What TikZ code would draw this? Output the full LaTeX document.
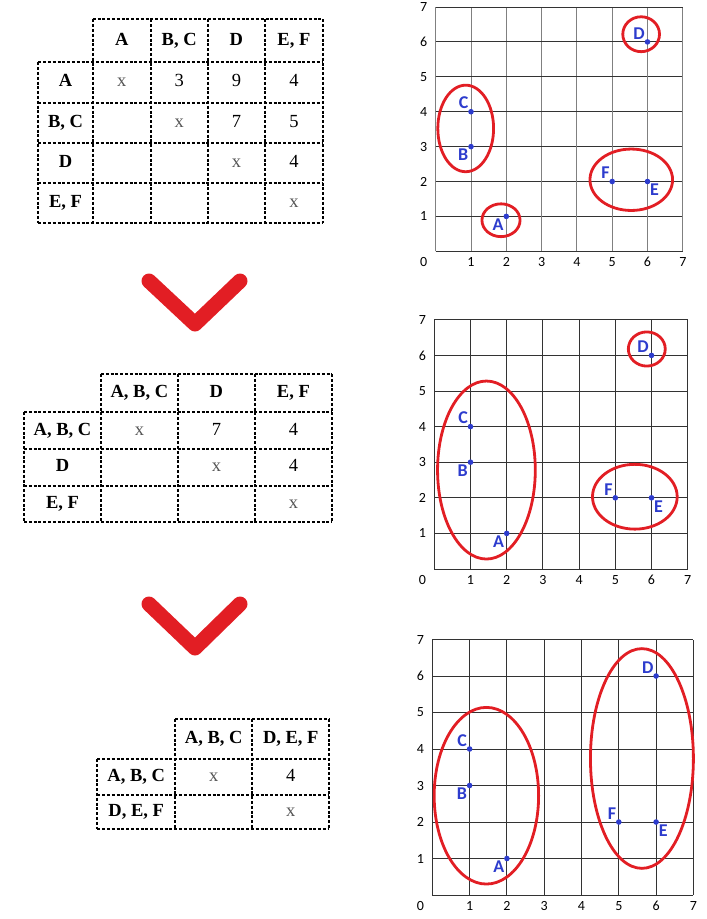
\documentclass[tikz,border=0pt]{standalone}
\usepackage{fontspec}
\setmainfont{Liberation Serif}
\newfontfamily\plotfont{Carlito}
\usepackage{tikz}
\usetikzlibrary{positioning}
\definecolor{chevred}{RGB}{226,30,36}
\definecolor{ptblue}{RGB}{45,60,205}
\definecolor{xgray}{RGB}{85,85,85}
\tikzset{%
  dotline/.style={%
    line width=1.8pt,
    dash pattern=on 3pt off 1.8pt
  }
}
\tikzset{%
  hdr/.style={font=\fontsize{18.5}{22}\selectfont\bfseries, inner sep=0pt},
  val/.style={font=\fontsize{18.5}{22}\selectfont, inner sep=0pt},
  xval/.style={val, text=xgray},
  chevron/.style={draw=chevred, line width=15pt, line cap=round, line join=round},
  gridln/.style={line width=1pt, draw=black!80},
  cluster/.style={draw=chevred, line width=2.8pt},
  axisnum/.style={font=\plotfont\fontsize{14}{14}\selectfont, inner sep=0pt},
  ptlabel/.style={font=\plotfont\bfseries\fontsize{18}{18}\selectfont, text=ptblue, inner sep=0pt}
}

\begin{document}
\begin{tikzpicture}[x=1pt, y=-1pt]
  \useasboundingbox (0,0) rectangle (707,919);

  % first table
  \draw [dotline] (92.7,19.3) -- (322.7,19.3);
  \foreach \y in {62.3,102.7,142.7,182.7,222.7}
    \draw [dotline] (38.3,\y) -- (322.7,\y);
  \draw [dotline] (38.3,62.3) -- (38.3,222.7);
  \foreach \x in {92.7,150.7,207.7,265,322.7}
    \draw [dotline] (\x,19.3) -- (\x,222.7);
  \node [hdr] (ah1) at (121.7,40.8) {\strut A};
  \node [hdr] (ah2) at (179.2,40.8) {\strut B, C};
  \node [hdr] (ah3) at (236.4,40.8) {\strut D};
  \node [hdr] (ah4) at (293.9,40.8) {\strut E, F};
  \node [hdr] (ar1) at (65.5,82.5) {\strut A};
  \node [hdr] (ar2) at (65.5,122.7) {\strut B, C};
  \node [hdr] (ar3) at (65.5,162.7) {\strut D};
  \node [hdr] (ar4) at (65.5,202.7) {\strut E, F};
  \node [xval] (a11) at (121.7,82.5) {\strut x};
  \node [val] (a12) at (179.2,82.5) {\strut 3};
  \node [val] (a13) at (236.4,82.5) {\strut 9};
  \node [val] (a14) at (293.9,82.5) {\strut 4};
  \node [xval] (a22) at (179.2,122.7) {\strut x};
  \node [val] (a23) at (236.4,122.7) {\strut 7};
  \node [val] (a24) at (293.9,122.7) {\strut 5};
  \node [xval] (a33) at (236.4,162.7) {\strut x};
  \node [val] (a34) at (293.9,162.7) {\strut 4};
  \node [xval] (a44) at (293.9,202.7) {\strut x};

  \draw [chevron] (149,281) -- (195,324) -- (240,281);

  % second table
  \draw [dotline] (101,374) -- (331.7,374);
  \foreach \y in {412.3,449,485.7,521.7}
    \draw [dotline] (24,\y) -- (331.7,\y);
  \draw [dotline] (24,412.3) -- (24,521.7);
  \foreach \x in {101,177.7,255,331.7}
    \draw [dotline] (\x,374) -- (\x,521.7);
  \node [hdr] (bh1) at (139.4,393.2) {\strut A, B, C};
  \node [hdr] (bh2) at (216.4,393.2) {\strut D};
  \node [hdr] (bh3) at (293.4,393.2) {\strut E, F};
  \node [hdr] (br1) at (62.5,430.7) {\strut A, B, C};
  \node [hdr] (br2) at (62.5,467.4) {\strut D};
  \node [hdr] (br3) at (62.5,503.7) {\strut E, F};
  \node [xval] (b11) at (139.4,430.7) {\strut x};
  \node [val] (b12) at (216.4,430.7) {\strut 7};
  \node [val] (b13) at (293.4,430.7) {\strut 4};
  \node [xval] (b22) at (216.4,467.4) {\strut x};
  \node [val] (b23) at (293.4,467.4) {\strut 4};
  \node [xval] (b33) at (293.4,503.7) {\strut x};

  \draw [chevron] (149,604) -- (195,648) -- (240,604);

  % third table
  \draw [dotline] (175,719.3) -- (329.3,719.3);
  \foreach \y in {759.3,795,829.3}
    \draw [dotline] (97.3,\y) -- (329.3,\y);
  \draw [dotline] (97.3,759.3) -- (97.3,829.3);
  \foreach \x in {175,252.3,329.3}
    \draw [dotline] (\x,719.3) -- (\x,829.3);
  \node [hdr] (ch1) at (213.7,739.3) {\strut A, B, C};
  \node [hdr] (ch2) at (290.8,739.3) {\strut D, E, F};
  \node [hdr] (cr1) at (136.2,777.2) {\strut A, B, C};
  \node [hdr] (cr2) at (136.2,812.2) {\strut D, E, F};
  \node [xval] (c11) at (213.7,777.2) {\strut x};
  \node [val] (c12) at (290.8,777.2) {\strut 4};
  \node [xval] (c22) at (290.8,812.2) {\strut x};

  % first plot
  \begin{scope}[shift={(435.7,251.3)}, x=35.3pt, y=34.9pt]
    \foreach \i in {0,...,7} {
      \draw [gridln, draw=black!50] (\i,0) -- (\i,7);
      \draw [gridln] (0,\i) -- (7,\i);
    }
    \node [axisnum, xshift=-12pt, yshift=-11pt] (pa0) at (0,0) {0};
    \foreach \i in {1,...,7} {
      \node [axisnum, yshift=-11pt] (pax\i) at (\i,0) {\i};
      \node [axisnum, xshift=-12pt] (pay\i) at (0,\i) {\i};
    }
    \draw [cluster] (0.85,3.52) ellipse [x radius=0.79, y radius=1.24];
    \draw [cluster] (1.85,0.89) ellipse [x radius=0.54, y radius=0.47];
    \draw [cluster] (5.82,6.22) ellipse [x radius=0.52, y radius=0.5];
    \draw [cluster] (5.54,2.05) ellipse [x radius=1.17, y radius=0.88];
    \foreach \n/\px/\py/\pos in {A/2/1/below left, B/1/3/below left,
        C/1/4/above left, D/6/6/above left, E/6/2/below right, F/5/2/above left} {
      \coordinate (p\n) at (\px,\py);
      \fill [ptblue] (p\n) circle (2.8pt);
      \node [ptlabel, \pos=3.5pt of p\n] (pl\n) {\n};
    }
  \end{scope}

  % second plot
  \begin{scope}[shift={(434.3,569)}, x=36.2pt, y=35.6pt]
    \foreach \i in {0,...,7} {
      \draw [gridln] (\i,0) -- (\i,7);
      \draw [gridln] (0,\i) -- (7,\i);
    }
    \node [axisnum, xshift=-12pt, yshift=-11pt] (qa0) at (0,0) {0};
    \foreach \i in {1,...,7} {
      \node [axisnum, yshift=-11pt] (qax\i) at (\i,0) {\i};
      \node [axisnum, xshift=-12pt] (qay\i) at (0,\i) {\i};
    }
    \draw [cluster] (1.44,2.78) ellipse [x radius=1.35, y radius=2.5];
    \draw [cluster] (5.87,6.18) ellipse [x radius=0.51, y radius=0.48];
    \draw [cluster] (5.54,2.03) ellipse [x radius=1.17, y radius=0.91];
    \foreach \n/\px/\py/\pos in {A/2/1/below left, B/1/3/below left,
        C/1/4/above left, D/6/6/above left, E/6/2/below right, F/5/2/above left} {
      \coordinate (q\n) at (\px,\py);
      \fill [ptblue] (q\n) circle (2.8pt);
      \node [ptlabel, \pos=3.5pt of q\n] (ql\n) {\n};
    }
  \end{scope}

  % third plot
  \begin{scope}[shift={(432.3,895)}, x=37.3pt, y=36.5pt]
    \foreach \i in {0,...,7} {
      \draw [gridln] (\i,0) -- (\i,7);
      \draw [gridln] (0,\i) -- (7,\i);
    }
    \node [axisnum, xshift=-12pt, yshift=-11pt] (ra0) at (0,0) {0};
    \foreach \i in {1,...,7} {
      \node [axisnum, yshift=-11pt] (rax\i) at (\i,0) {\i};
      \node [axisnum, xshift=-12pt] (ray\i) at (0,\i) {\i};
    }
    \draw [cluster] (1.45,2.72) ellipse [x radius=1.40, y radius=2.42];
    \draw [cluster] (5.62,3.74) ellipse [x radius=1.38, y radius=3.01];
    \foreach \n/\px/\py/\pos in {A/2/1/below left, B/1/3/below left,
        C/1/4/above left, D/6/6/above left, E/6/2/below right, F/5/2/above left} {
      \coordinate (r\n) at (\px,\py);
      \fill [ptblue] (r\n) circle (2.8pt);
      \node [ptlabel, \pos=3.5pt of r\n] (rl\n) {\n};
    }
  \end{scope}
\end{tikzpicture}
\end{document}
